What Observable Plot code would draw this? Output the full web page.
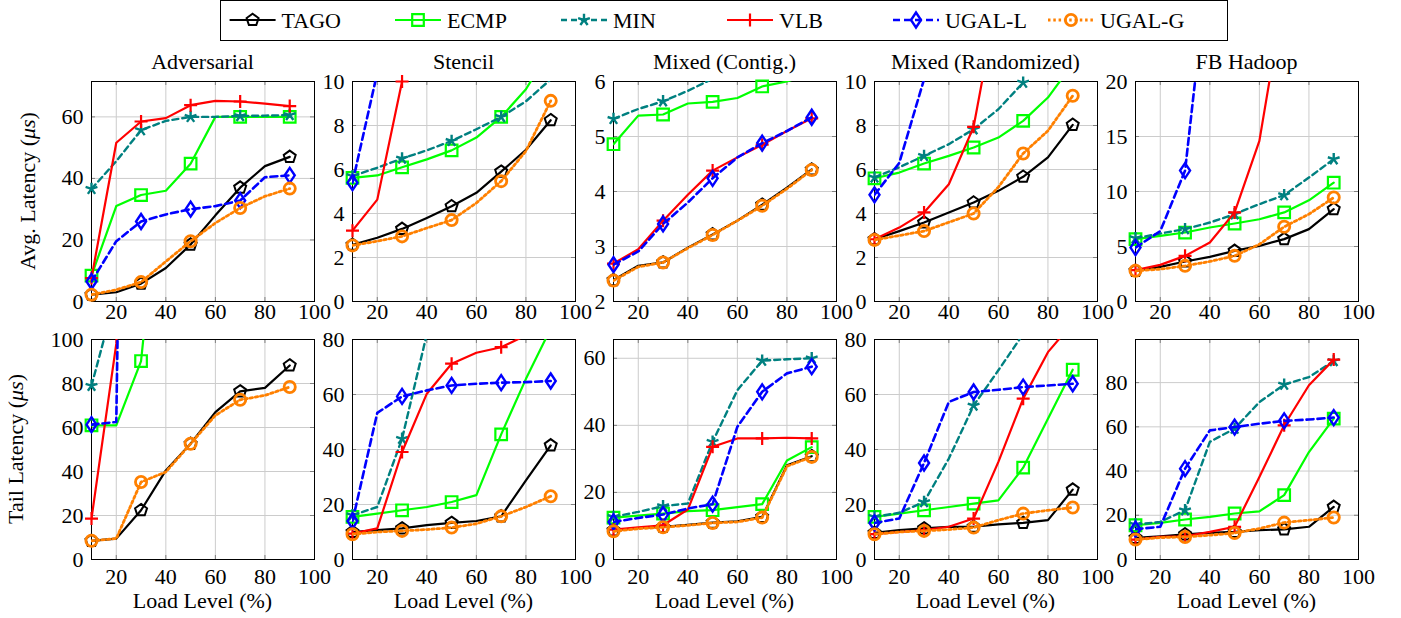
<!DOCTYPE html>
<html>
<head>
<meta charset="utf-8">
<script src="https://cdn.jsdelivr.net/npm/d3@7"></script>
<script src="https://cdn.jsdelivr.net/npm/@observablehq/plot@0.6"></script>
<style>
  body { margin: 0; background: #fff; }
  #root { position: relative; width: 1401px; height: 618px; overflow: hidden;
          font-family: "Liberation Serif", Tinos, "DejaVu Serif", serif; color: #000; }
  .panel { position: absolute; }
  .panel svg { overflow: visible; }
  .panel svg text { font-family: "Liberation Serif", Tinos, "DejaVu Serif", serif; }
  .lbl { position: absolute; font-size: 22px; line-height: 22px; white-space: nowrap;
         transform: translate(-50%, -50%); }
  .ylbl { position: absolute; font-size: 22px; line-height: 22px; white-space: nowrap;
          transform: translate(-50%, -50%) rotate(-90deg); }
</style>
</head>
<body>
<div id="root"></div>
<script>
// ---------------- DATA ----------------
const loads = [10, 20, 30, 40, 50, 60, 70, 80, 90];
const markerLoads = [10, 30, 50, 70, 90];
const seriesNames = ["TAGO", "ECMP", "MIN", "VLB", "UGAL-L", "UGAL-G"];
const xTicks = [20, 40, 60, 80, 100];
const panelTitles = ["Adversarial", "Stencil", "Mixed (Contig.)", "Mixed (Randomized)", "FB Hadoop"];
const avgLabel = "Avg. Latency";
const tailLabel = "Tail Latency";
const unitLabel = "μs";
const xLabel = "Load Level (%)";

// Average latency (µs)
const avgAdversarial = {
  "TAGO":   [2.2, 3.0, 5.8, 10.9, 18.5, 28.0, 37.0, 44.0, 47.0],
  "ECMP":   [8.4, 31.0, 34.6, 36.0, 44.8, 60.0, 60.0, 60.0, 60.0],
  "MIN":    [36.6, 45.6, 55.7, 58.7, 60.0, 60.0, 60.3, 60.4, 60.6],
  "VLB":    [7.6, 51.6, 58.5, 59.6, 63.8, 65.2, 65.0, 64.3, 63.5],
  "UGAL-L": [6.5, 19.6, 26.0, 28.3, 30.0, 31.0, 32.8, 40.4, 41.0],
  "UGAL-G": [2.2, 3.8, 6.3, 13.0, 19.6, 25.5, 30.4, 34.2, 36.7]
};
const avgStencil = {
  "TAGO":   [2.58, 2.9, 3.3, 3.8, 4.33, 4.94, 5.9, 6.9, 8.24],
  "ECMP":   [5.62, 5.73, 6.1, 6.46, 6.87, 7.45, 8.39, 9.65, 11.5],
  "MIN":    [5.7, 6.08, 6.5, 6.87, 7.3, 7.83, 8.39, 9.1, 10.1],
  "VLB":    [3.22, 4.63, 10.0, 20.0],
  "UGAL-L": [5.4, 10.4, 20.0],
  "UGAL-G": [2.55, 2.74, 2.96, 3.34, 3.7, 4.48, 5.47, 6.84, 9.12]
};
const avgContig = {
  "TAGO":   [2.39, 2.65, 2.71, 2.98, 3.22, 3.47, 3.76, 4.07, 4.4],
  "ECMP":   [4.86, 5.38, 5.4, 5.6, 5.63, 5.7, 5.91, 6.0, 6.15],
  "MIN":    [5.32, 5.5, 5.64, 5.83, 6.05],
  "VLB":    [2.69, 2.95, 3.47, 3.94, 4.38, 4.62, 4.85, 5.1, 5.33],
  "UGAL-L": [2.67, 2.91, 3.41, 3.8, 4.24, 4.62, 4.88, 5.1, 5.35],
  "UGAL-G": [2.38, 2.63, 2.71, 2.97, 3.21, 3.47, 3.74, 4.05, 4.39]
};
const avgRandom = {
  "TAGO":   [2.83, 3.2, 3.59, 4.05, 4.5, 5.03, 5.67, 6.55, 8.03],
  "ECMP":   [5.6, 5.86, 6.27, 6.62, 7.0, 7.45, 8.21, 9.27, 10.8],
  "MIN":    [5.64, 6.1, 6.62, 7.15, 7.83, 8.74, 9.95, 11.2],
  "VLB":    [2.83, 3.36, 4.05, 5.33, 7.94, 14.0],
  "UGAL-L": [4.85, 6.3, 10.1, 15.0],
  "UGAL-G": [2.8, 3.0, 3.2, 3.6, 4.0, 5.2, 6.73, 7.76, 9.35]
};
const avgHadoop = {
  "TAGO":   [2.79, 3.15, 3.64, 4.06, 4.6, 5.06, 5.67, 6.58, 8.4],
  "ECMP":   [5.67, 5.97, 6.27, 6.73, 7.09, 7.48, 8.1, 9.2, 10.8],
  "MIN":    [5.76, 6.18, 6.58, 7.18, 7.94, 8.85, 9.67, 11.27, 12.94],
  "VLB":    [2.85, 3.33, 4.15, 5.36, 8.1, 14.6, 28.0],
  "UGAL-L": [4.9, 6.4, 11.9, 32.0],
  "UGAL-G": [2.79, 2.94, 3.24, 3.64, 4.15, 5.2, 6.79, 7.94, 9.45]
};

// Tail latency (µs)
const tailAdversarial = {
  "TAGO":   [8.5, 9.5, 22.4, 40.5, 52.6, 67.0, 76.4, 78.0, 88.2],
  "ECMP":   [61.0, 61.0, 90.2, 200.0],
  "MIN":    [79.0, 121.0],
  "VLB":    [18.6, 98.0, 300.0],
  "UGAL-L": [61.3, 62.5, 800.0],
  "UGAL-G": [8.5, 9.5, 35.2, 39.8, 52.6, 65.5, 72.6, 74.6, 78.4]
};
const tailStencil = {
  "TAGO":   [10.0, 10.7, 11.3, 12.5, 13.3, 14.0, 15.7, 28.8, 41.5],
  "ECMP":   [15.5, 16.7, 17.9, 19.1, 20.9, 23.4, 45.5, 65.7, 84.0],
  "MIN":    [16.1, 19.1, 43.9, 82.0],
  "VLB":    [9.4, 11.3, 39.1, 60.3, 71.2, 75.2, 77.2, 81.5],
  "UGAL-L": [14.0, 53.3, 59.3, 61.5, 63.3, 63.9, 64.3, 64.5, 64.9],
  "UGAL-G": [9.2, 10.0, 10.4, 10.9, 11.6, 13.0, 15.7, 19.1, 23.0]
};
const tailContig = {
  "TAGO":   [8.7, 9.4, 9.7, 10.3, 11.0, 11.4, 12.7, 28.1, 30.8],
  "ECMP":   [12.5, 13.1, 13.7, 14.4, 14.7, 15.6, 16.5, 29.5, 33.5],
  "MIN":    [12.7, 14.2, 15.9, 16.7, 35.1, 50.5, 59.3, 59.7, 60.0],
  "VLB":    [8.9, 9.6, 10.2, 14.9, 33.6, 36.1, 36.1, 36.3, 36.1],
  "UGAL-L": [11.2, 12.4, 13.4, 15.2, 16.5, 39.6, 50.0, 55.5, 57.5],
  "UGAL-G": [8.4, 9.2, 9.6, 10.2, 10.9, 11.2, 12.5, 27.8, 30.6]
};
const tailRandom = {
  "TAGO":   [9.7, 10.7, 11.3, 11.9, 11.9, 12.8, 13.3, 14.3, 25.4],
  "ECMP":   [15.5, 16.7, 17.9, 19.1, 20.3, 21.5, 33.4, 51.2, 69.0],
  "MIN":    [15.5, 17.0, 20.9, 36.7, 56.0, 68.8, 82.0],
  "VLB":    [9.2, 10.0, 10.7, 11.9, 14.9, 35.5, 58.5, 75.4, 86.0],
  "UGAL-L": [13.3, 14.9, 35.1, 57.3, 60.9, 61.7, 62.7, 63.3, 63.9],
  "UGAL-G": [9.2, 10.0, 10.4, 10.9, 11.6, 14.3, 16.7, 17.9, 18.9]
};
const tailHadoop = {
  "TAGO":   [9.8, 10.5, 11.4, 12.0, 12.5, 13.3, 13.6, 14.8, 23.8],
  "ECMP":   [15.5, 16.6, 18.1, 19.3, 20.8, 21.8, 29.1, 48.6, 63.7],
  "MIN":    [15.8, 17.0, 22.3, 53.2, 59.2, 71.2, 79.1, 82.5, 89.8],
  "VLB":    [9.0, 10.2, 10.5, 12.5, 14.8, 37.3, 60.7, 78.8, 90.4],
  "UGAL-L": [13.7, 14.8, 41.1, 58.4, 59.9, 61.4, 62.7, 63.3, 64.2],
  "UGAL-G": [9.0, 9.9, 10.2, 11.0, 12.0, 14.0, 16.7, 17.8, 19.0]
};

const avgPanels = [avgAdversarial, avgStencil, avgContig, avgRandom, avgHadoop];
const tailPanels = [tailAdversarial, tailStencil, tailContig, tailRandom, tailHadoop];
const avgYDomains = [[0, 71.5], [0, 10], [2, 6], [0, 10], [0, 20]];
const avgYTicks = [[0, 20, 40, 60], [0, 2, 4, 6, 8, 10], [2, 3, 4, 5, 6], [0, 2, 4, 6, 8, 10], [0, 5, 10, 15, 20]];
const tailYDomains = [[0, 100], [0, 80], [0, 65.6], [0, 80], [0, 99.5]];
const tailYTicks = [[0, 20, 40, 60, 80, 100], [0, 20, 40, 60, 80], [0, 20, 40, 60], [0, 20, 40, 60, 80], [0, 20, 40, 60, 80]];

// ---------------- STYLE ----------------
const FONT = '"Liberation Serif", Tinos, "DejaVu Serif", serif';
const pentagon = { draw(ctx) { const R = 6.3;
  for (let i = 0; i < 5; i++) { const a = -Math.PI / 2 + i * 2 * Math.PI / 5;
    const x = R * Math.cos(a), y = R * Math.sin(a); if (i) ctx.lineTo(x, y); else ctx.moveTo(x, y); }
  ctx.closePath(); } };
const squareSym = { draw(ctx) { const s = 5.8; ctx.moveTo(-s, -s); ctx.lineTo(s, -s); ctx.lineTo(s, s); ctx.lineTo(-s, s); ctx.closePath(); } };
const starSym = { draw(ctx) { const R = 6.2;
  for (let i = 0; i < 5; i++) { const a = -Math.PI / 2 + i * 2 * Math.PI / 5; ctx.moveTo(0, 0); ctx.lineTo(R * Math.cos(a), R * Math.sin(a)); } } };
const plusSym = { draw(ctx) { const R = 6.5; ctx.moveTo(-R, 0); ctx.lineTo(R, 0); ctx.moveTo(0, -R); ctx.lineTo(0, R); } };
const diamondSym = { draw(ctx) { const w = 5, h = 7.5; ctx.moveTo(0, -h); ctx.lineTo(w, 0); ctx.lineTo(0, h); ctx.lineTo(-w, 0); ctx.closePath(); } };
const circleSym = { draw(ctx) { const r = 5.6; ctx.moveTo(r, 0); ctx.arc(0, 0, r, 0, 2 * Math.PI); } };

const styles = {
  "TAGO":   { color: "#000000", width: 2.2, dash: null,   sym: pentagon,   mw: 2.0 },
  "ECMP":   { color: "#00ff00", width: 2.2, dash: null,   sym: squareSym,  mw: 2.2 },
  "MIN":    { color: "#008080", width: 2.4, dash: "6,4",  sym: starSym,    mw: 2.4 },
  "VLB":    { color: "#ff0000", width: 2.2, dash: null,   sym: plusSym,    mw: 2.2 },
  "UGAL-L": { color: "#0000ff", width: 2.6, dash: "7,4",  sym: diamondSym, mw: 2.4 },
  "UGAL-G": { color: "#ff8000", width: 2.8, dash: "2.5,2.8", sym: circleSym, mw: 2.8 }
};

// ---------------- LAYOUT ----------------
const root = document.getElementById("root");
const frameLefts = [91, 352, 613, 874, 1135];
const rowTops = [81, 339];
const frameW = 223, frameH = 220;
const ML = 50, MR = 28, MT = 12, MB = 45;
const TICK = 4;
const fmt = d => String(d);

function makePanel(data, yDomain, yTicks, xPad) {
  const rows = [];
  seriesNames.forEach(s => (data[s] || []).forEach((v, j) => rows.push({ s, x: loads[j], y: v })));
  const innerX = xTicks.slice(0, 4);
  const innerY = yTicks.filter(t => t > yDomain[0] && t < yDomain[1]);
  const marks = [
    Plot.gridX({ ticks: innerX, stroke: "#cccccc", strokeOpacity: 1, strokeWidth: 1 }),
    Plot.gridY({ ticks: yTicks, stroke: "#cccccc", strokeOpacity: 1, strokeWidth: 1 }),
    // small inner tick marks (pgfplots style) on all four sides
    Plot.ruleX(innerX, { x: d => d, stroke: "#808080", insetTop: frameH - TICK }),
    Plot.ruleX(innerX, { x: d => d, stroke: "#808080", insetBottom: frameH - TICK }),
    Plot.ruleY(innerY, { y: d => d, stroke: "#808080", insetRight: frameW - TICK }),
    Plot.ruleY(innerY, { y: d => d, stroke: "#808080", insetLeft: frameW - TICK }),
    Plot.axisX({ ticks: xTicks, tickFormat: fmt, tickSize: 0, tickPadding: xPad, label: null, fontFamily: FONT }),
    Plot.axisY({ ticks: yTicks, tickFormat: fmt, tickSize: 0, tickPadding: 8, label: null, fontFamily: FONT }),
    Plot.frame({ stroke: "#000", strokeWidth: 1 })
  ];
  seriesNames.forEach(s => {
    const st = styles[s];
    const d = rows.filter(r => r.s === s);
    marks.push(Plot.line(d, { x: "x", y: "y", stroke: st.color, strokeWidth: st.width,
      strokeDasharray: st.dash, clip: true, strokeLinejoin: "round" }));
    marks.push(Plot.dot(d.filter(r => markerLoads.includes(r.x) && r.y <= yDomain[1] + 1e-9), {
      x: "x", y: "y", symbol: st.sym, stroke: st.color, fill: "none", strokeWidth: st.mw }));
  });
  return Plot.plot({
    width: ML + frameW + MR, height: MT + frameH + MB,
    marginLeft: ML, marginRight: MR, marginTop: MT, marginBottom: MB,
    x: { domain: [10, 100] },
    y: { domain: yDomain },
    style: { fontFamily: FONT, fontSize: "22px",
             color: "#000", background: "transparent", overflow: "visible" },
    marks
  });
}

function place(el, left, top) {
  const div = document.createElement("div");
  div.className = "panel";
  div.style.left = left + "px";
  div.style.top = top + "px";
  div.appendChild(el);
  root.appendChild(div);
}

for (let i = 0; i < 5; i++) {
  place(makePanel(avgPanels[i], avgYDomains[i], avgYTicks[i], 2), frameLefts[i] - ML, rowTops[0] - MT);
  place(makePanel(tailPanels[i], tailYDomains[i], tailYTicks[i], 9), frameLefts[i] - ML, rowTops[1] - MT);
}

function addLabel(cls, html, x, y) {
  const d = document.createElement("div");
  d.className = cls;
  d.innerHTML = html;
  d.style.left = x + "px";
  d.style.top = y + "px";
  root.appendChild(d);
}
for (let i = 0; i < 5; i++) {
  const cx = frameLefts[i] + frameW / 2;
  addLabel("lbl", panelTitles[i], cx, 62);
  addLabel("lbl", xLabel, cx, 600.5);
}
addLabel("ylbl", `${avgLabel} (<i>${unitLabel}</i>)`, 27.5, rowTops[0] + frameH / 2);
addLabel("ylbl", `${tailLabel} (<i>${unitLabel}</i>)`, 15.5, rowTops[1] + frameH / 2);

// ---------------- LEGEND ----------------
const legX = [229.6, 395, 561, 727, 893, 1048];
const leg = d3.select(root).append("svg")
  .attr("width", 1401).attr("height", 45)
  .style("position", "absolute").style("left", "0px").style("top", "0px");
leg.append("rect").attr("x", 220.5).attr("y", 0.5).attr("width", 1007).attr("height", 40)
  .attr("fill", "none").attr("stroke", "#000").attr("stroke-width", 1);
seriesNames.forEach((s, i) => {
  const st = styles[s];
  const g = leg.append("g").attr("transform", `translate(${legX[i]},20)`);
  g.append("line").attr("x1", 0).attr("x2", 46).attr("y1", 0).attr("y2", 0)
    .attr("stroke", st.color).attr("stroke-width", st.width)
    .attr("stroke-dasharray", st.dash);
  g.append("path").attr("transform", "translate(23,0)")
    .attr("d", d3.symbol().type(st.sym)())
    .attr("fill", "none").attr("stroke", st.color).attr("stroke-width", st.mw);
  g.append("text").attr("x", 52).attr("y", 0).attr("dy", "0.35em")
    .style("font-family", FONT)
    .attr("font-size", 22).text(s);
});
</script>
</body>
</html>
